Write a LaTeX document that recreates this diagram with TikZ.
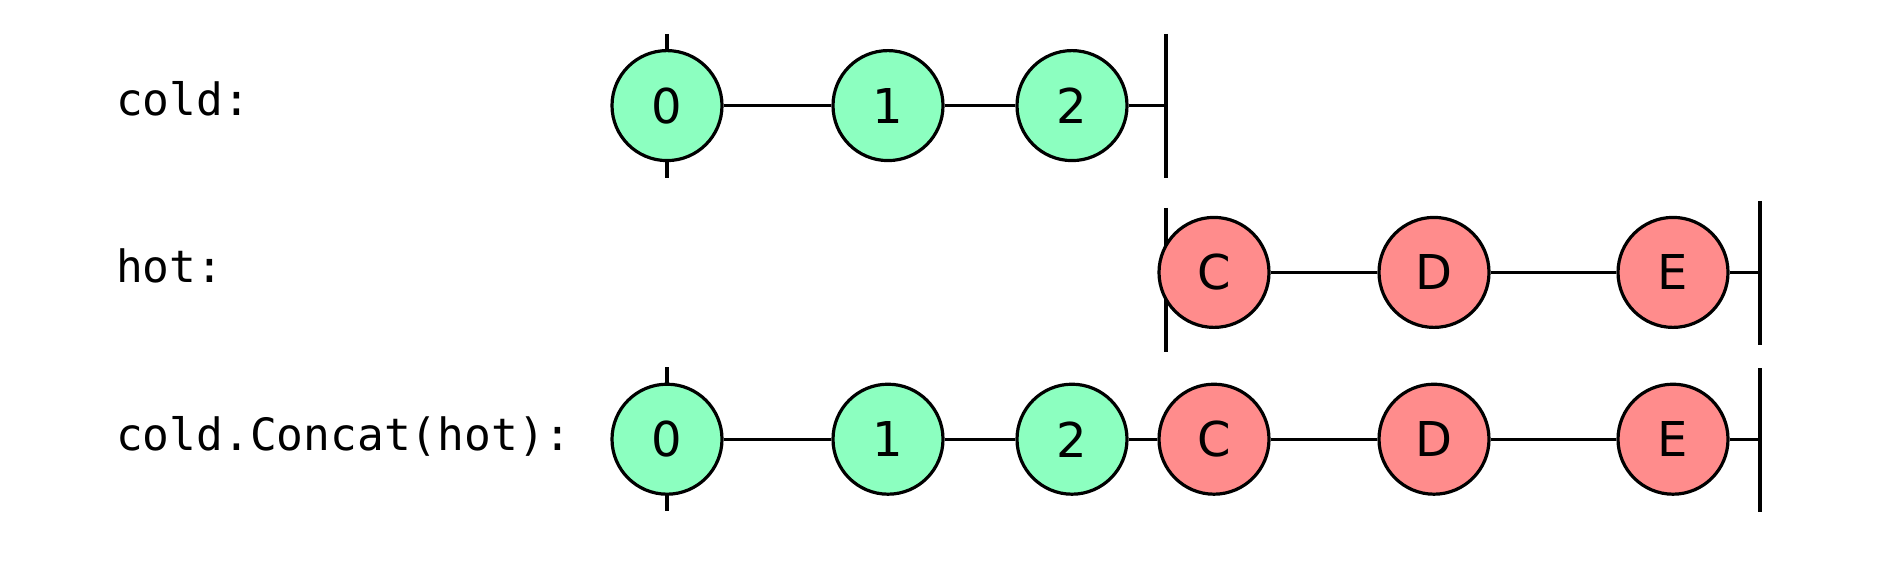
\documentclass[tikz,border=0pt]{standalone}
\usepackage{fontspec}
\newfontfamily\labelfont{DejaVu Sans Mono}
\newfontfamily\marblefont{DejaVu Sans}
\definecolor{coldfill}{RGB}{140,255,192}
\definecolor{hotfill}{RGB}{255,140,140}
\begin{document}
\begin{tikzpicture}[x=1pt,y=-1pt,
  marble/.style={circle,draw=black,line width=3.2pt,minimum size=110pt,inner sep=0pt,
    font=\marblefont\fontsize{48}{54}\selectfont},
  cold/.style={marble,fill=coldfill},
  hot/.style={marble,fill=hotfill},
  rowlabel/.style={anchor=base west,inner sep=0pt,font=\labelfont\fontsize{44.5}{50}\selectfont},
  bar/.style={line width=3.2pt},
  link/.style={line width=3.2pt}]
\useasboundingbox (0,0) rectangle (1881,561);
% bars and ticks (behind marbles)
\coordinate (t1a) at (667,34);  \coordinate (t1b) at (667,178);
\coordinate (e1a) at (1166,34); \coordinate (e1b) at (1166,178);
\coordinate (e1) at (1166,105.6);
\coordinate (s2a) at (1166,208); \coordinate (s2b) at (1166,352);
\coordinate (e2a) at (1760,201); \coordinate (e2b) at (1760,345);
\coordinate (e2) at (1760,272.4);
\coordinate (t3a) at (667,367); \coordinate (t3b) at (667,511);
\coordinate (e3a) at (1760,368); \coordinate (e3b) at (1760,512);
\coordinate (e3) at (1760,439.2);
\draw[bar] (t1a) -- (t1b);
\draw[bar] (e1a) -- (e1b);
\draw[bar] (s2a) -- (s2b);
\draw[bar] (e2a) -- (e2b);
\draw[bar] (t3a) -- (t3b);
\draw[bar] (e3a) -- (e3b);
% labels
\node[rowlabel] (l1) at (116,116) {cold:};
\node[rowlabel] (l2) at (116,283) {hot:};
\node[rowlabel] (l3) at (116,450) {cold.Concat(hot):};
% row 1
\node[cold] (a0) at (667,105.6) {0};
\node[cold] (a1) at (888,105.6) {1};
\node[cold] (a2) at (1072,105.6) {2};
% row 2
\node[hot] (bC) at (1214,272.4) {C};
\node[hot] (bD) at (1434,272.4) {D};
\node[hot] (bE) at (1673,272.4) {E};
% row 3
\node[cold] (c0) at (667,439.2) {0};
\node[cold] (c1) at (888,439.2) {1};
\node[cold] (c2) at (1072,439.2) {2};
\node[hot] (cC) at (1214,439.2) {C};
\node[hot] (cD) at (1434,439.2) {D};
\node[hot] (cE) at (1673,439.2) {E};
% connectors
\draw[link] (a0) -- (a1);
\draw[link] (a1) -- (a2);
\draw[link] (a2) -- (e1);
\draw[link] (bC) -- (bD);
\draw[link] (bD) -- (bE);
\draw[link] (bE) -- (e2);
\draw[link] (c0) -- (c1);
\draw[link] (c1) -- (c2);
\draw[link] (c2) -- (cC);
\draw[link] (cC) -- (cD);
\draw[link] (cD) -- (cE);
\draw[link] (cE) -- (e3);
\end{tikzpicture}
\end{document}
